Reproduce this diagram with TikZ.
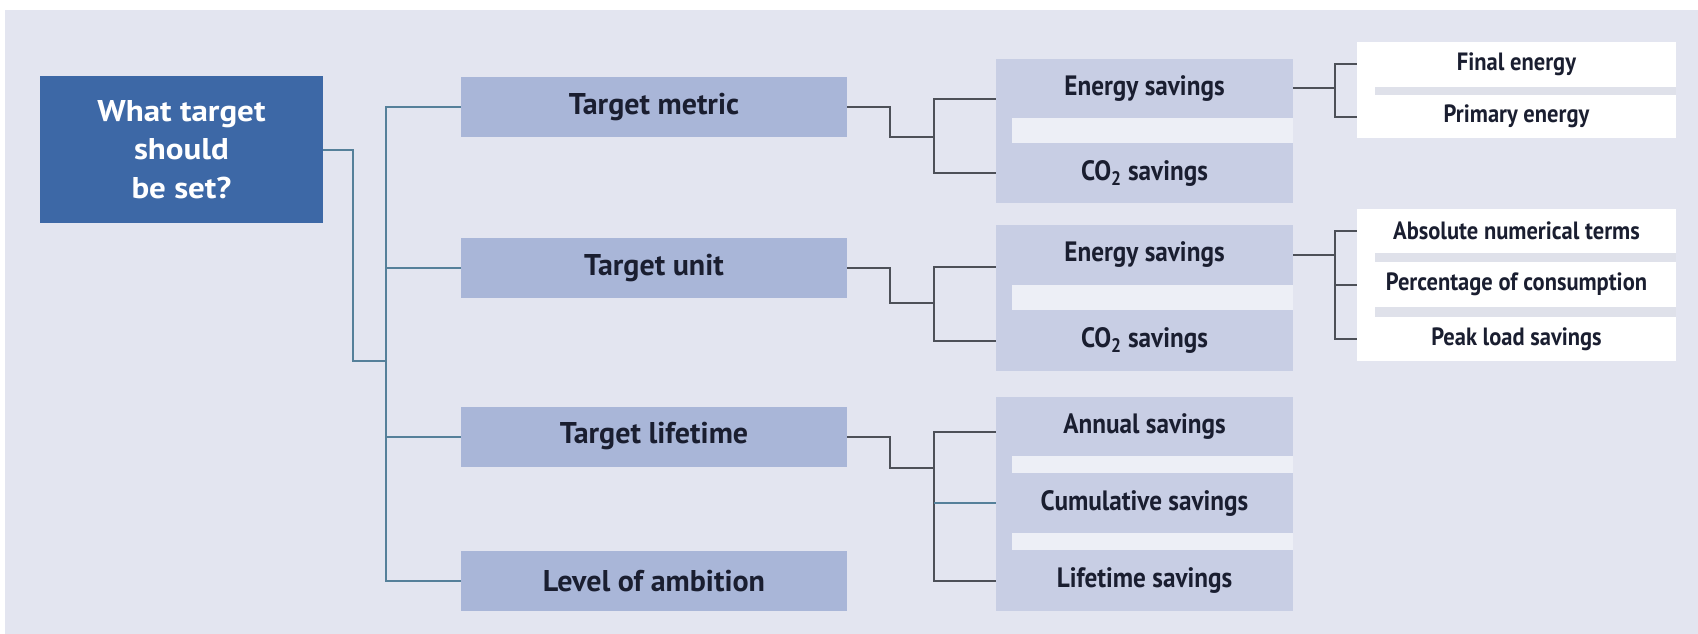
\documentclass[tikz,border=0pt]{standalone}
\usepackage{fontspec}
\setmainfont{PT Sans}
\newfontfamily\rootfont{PT Sans}[FakeStretch=1.1]
\newfontfamily\branchfont{PT Sans}[FakeStretch=0.9]
\newfontfamily\leaffont{PT Sans}[FakeStretch=0.9]
\usetikzlibrary{calc}

\definecolor{panel}{HTML}{E3E5F0}
\definecolor{rootblue}{HTML}{3D68A6}
\definecolor{lvlone}{HTML}{A9B6D8}
\definecolor{lvltwo}{HTML}{C8CEE4}
\definecolor{gapstrip}{HTML}{EDEFF6}
\definecolor{gapgray}{HTML}{DFE1EA}
\definecolor{inkdark}{HTML}{1A1E30}
\definecolor{linkteal}{HTML}{55809A}
\definecolor{linkgray}{HTML}{4D5058}

\begin{document}
\begin{tikzpicture}[
        x=1pt, y=-1pt,
        box/.style={inner sep=0pt, text=inkdark, font=\bfseries\fontsize{30}{34}\selectfont},
        root/.style={box, fill=rootblue, text=white, align=center,
            minimum width=283pt, minimum height=147pt, font=\rootfont\bfseries\fontsize{30}{38.5}\selectfont},
        levelone/.style={box, fill=lvlone, minimum width=386pt, minimum height=60pt},
        leveltwo/.style={box, fill=lvltwo, minimum width=297pt, minimum height=60pt,
            font=\branchfont\bfseries\fontsize{28}{32}\selectfont},
        levelthree/.style={box, fill=white, minimum width=319pt, minimum height=44pt,
            font=\leaffont\bfseries\fontsize{25}{28}\selectfont},
        rootline/.style={draw=linkteal, line width=2pt},
        treeline/.style={draw=linkgray, line width=2pt}
    ]
        \useasboundingbox (0,0) rectangle (1698,634);
        \fill[panel] (5,10) rectangle (1698,634);

        % question
        \node[root] (root) at (181.5,149.5) {What target\\should\\be set?};

        % first level
        \node[levelone] (metric) at (654,107) {Target metric};
        \node[levelone] (unit) at (654,268) {Target unit};
        \node[levelone] (lifetime) at (654,436.5) {Target lifetime};
        \node[levelone] (ambition) at (654,581) {Level of ambition};

        % second level
        \node[leveltwo, minimum height=59pt] (es1) at (1144.5,88.5) {Energy savings};
        \node[leveltwo] (co1) at (1144.5,173) {CO\textsubscript{2} savings};
        \node[leveltwo] (es2) at (1144.5,255) {Energy savings};
        \node[leveltwo, minimum height=61pt] (co2) at (1144.5,340.5) {CO\textsubscript{2} savings};
        \node[leveltwo, minimum height=59pt] (ann) at (1144.5,426.5) {Annual savings};
        \node[leveltwo] (cum) at (1144.5,503) {Cumulative savings};
        \node[leveltwo, minimum height=61pt] (life) at (1144.5,580.5) {Lifetime savings};

        % third level
        \node[levelthree, minimum height=45pt] (final) at (1516.5,64.5) {Final energy};
        \node[levelthree, minimum height=43pt] (primary) at (1516.5,116.5) {Primary energy};
        \node[levelthree] (abs) at (1516.5,231) {Absolute numerical terms};
        \node[levelthree, minimum height=45pt] (pct) at (1516.5,284.5) {Percentage of consumption};
        \node[levelthree] (peak) at (1516.5,339) {Peak load savings};

        % gaps inside the stacks
        \foreach \upper/\lower in {es1/co1, es2/co2, ann/cum, cum/life} {
            \fill[lvltwo] (\upper.south west) rectangle ([xshift=16pt]\lower.north west);
            \fill[gapstrip] ([xshift=16pt]\upper.south west) rectangle (\lower.north east);
        }
        \foreach \upper/\lower in {final/primary, abs/pct, pct/peak} {
            \fill[white] (\upper.south west) rectangle ([xshift=18pt]\lower.north west);
            \fill[gapgray] ([xshift=18pt]\upper.south west) rectangle (\lower.north east);
        }

        % root connectors
        \coordinate (rootbus) at (386,361);
        \draw[rootline] (root.east) -| (353,361) -- (rootbus);
        \draw[rootline] (metric.west) -| (rootbus) |- (ambition.west);
        \draw[rootline] (unit.west) -- (unit.west -| rootbus);
        \draw[rootline] (lifetime.west) -- (lifetime.west -| rootbus);

        % first to second level
        \coordinate (busA) at (934,137);
        \draw[treeline] (metric.east) -| (890,137) -- (busA);
        \draw[treeline] ([yshift=-10pt]es1.west) -| (busA) |- (co1.west);
        \coordinate (busB) at (934,303);
        \draw[treeline] (unit.east) -| (890,303) -- (busB);
        \draw[treeline] ([yshift=-12pt]es2.west) -| (busB) |- (co2.west);
        \coordinate (busC) at (934,468);
        \draw[treeline] (lifetime.east) -| (890,468) -- (busC);
        \draw[treeline] ([yshift=-5pt]ann.west) -| (busC) |- (life.west);
        \draw[rootline] (cum.west) -- (cum.west -| busC);

        % second to third level
        \draw[treeline] (es1.east) -- ++(42,0) coordinate (busD);
        \draw[treeline] (final.west) -| (busD) |- (primary.west);
        \draw[treeline] (es2.east) -- ++(42,0) coordinate (busE);
        \draw[treeline] (abs.west) -| (busE) |- (peak.west);
        \draw[treeline] (pct.west) -- (pct.west -| busE);
    \end{tikzpicture}
\end{document}
